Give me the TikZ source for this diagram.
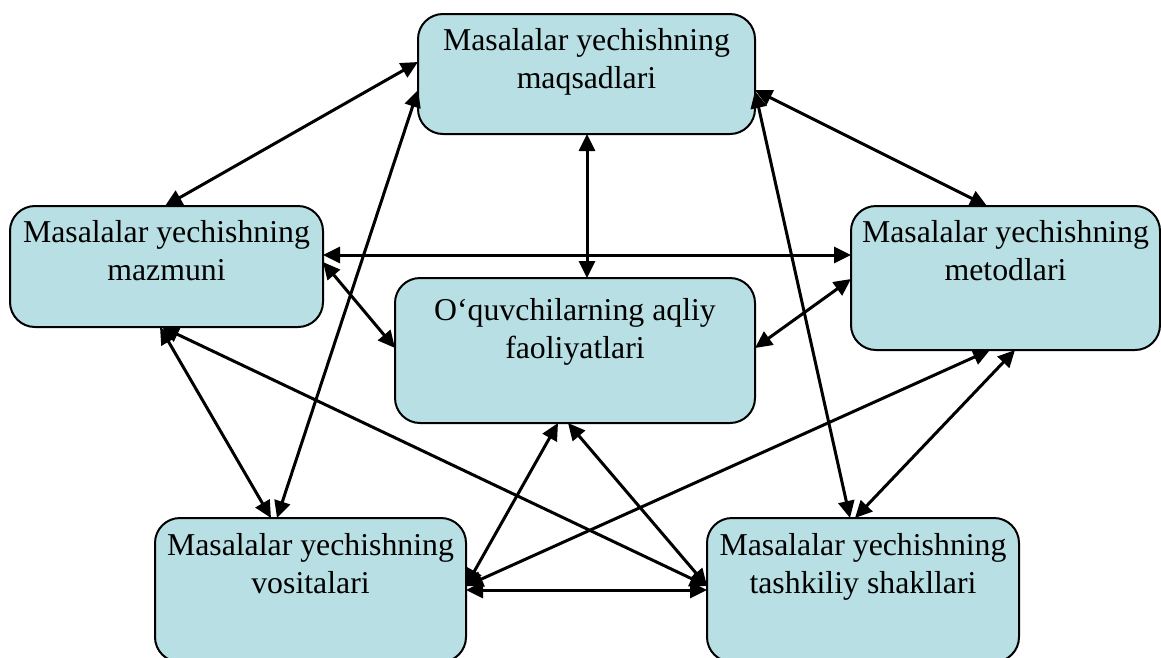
\documentclass[tikz,border=0pt]{standalone}
\usepackage{fontspec}
\setmainfont{Liberation Serif}
\usetikzlibrary{arrows.meta,calc}
\definecolor{boxfill}{RGB}{184,223,227}
\tikzset{
  box/.style={draw=black, line width=2pt, fill=boxfill, rounded corners=25pt, inner sep=0pt, outer sep=0pt},
  lbl/.style={anchor=north, inner sep=0pt, align=center, font=\fontsize{31.8pt}{38.2pt}\selectfont},
  conn/.style={line width=3pt, {Triangle[length=17pt,width=16pt]}-{Triangle[length=17pt,width=16pt]}}
}
\begin{document}
\begin{tikzpicture}[x=1pt,y=-1pt]
\useasboundingbox (0,0) rectangle (1161,657);
% boxes
\node[box, minimum width=337pt, minimum height=120pt] (T) at (586.5,74) {};
\node[box, minimum width=313pt, minimum height=121pt] (L) at (166.5,266.5) {};
\node[box, minimum width=309pt, minimum height=144pt] (R) at (1005.5,278) {};
\node[box, minimum width=360pt, minimum height=145pt] (C) at (575,350.5) {};
\node[box, minimum width=311pt, minimum height=144pt] (BL) at (310.5,590) {};
\node[box, minimum width=312pt, minimum height=144pt] (BR) at (863,590) {};
% labels
\node[lbl] (tT) at (586.5,28) {Masalalar yechishning\\maqsadlari};
\node[lbl] (tL) at (166.5,220) {Masalalar yechishning\\mazmuni};
\node[lbl] (tR) at (1005.5,220) {Masalalar yechishning\\metodlari};
\node[lbl] (tC) at (575,298) {O‘quvchilarning aqliy\\faoliyatlari};
\node[lbl] (tBL) at (310.5,533) {Masalalar yechishning\\vositalari};
\node[lbl] (tBR) at (863,533) {Masalalar yechishning\\tashkiliy shakllari};
% connectors
\draw[conn] ($(T.west)+(0,-12)$) -- ($(L.north)+(-1.5,0)$);
\draw[conn] ($(T.west)+(0,16)$) -- ($(BL.north)+(-33.5,0)$);
\draw[conn] ($(T.east)+(0,16)$) -- ($(R.north)+(-18.5,0)$);
\draw[conn] ($(T.south)+(0.5,0)$) -- ($(C.north)+(12,0)$);
\draw[conn] ($(T.east)+(0,17)$) -- ($(BR.north)+(-13,0)$);
\draw[conn] ($(L.east)+(0,-11.5)$) -- ($(R.west)+(0,-23)$);
\draw[conn] ($(L.east)+(0,-4.5)$) -- ($(C.west)+(0,-2.5)$);
\draw[conn] ($(L.south)+(-6.5,0)$) -- ($(BL.north)+(-39.5,0)$);
\draw[conn] ($(L.south)+(-4.5,0)$) -- ($(BR.west)+(0,-4)$);
\draw[conn] ($(C.east)+(0,-2.5)$) -- ($(R.west)+(0,1)$);
\draw[conn] ($(C.south)+(-17,0)$) -- ($(BL.east)+(0,-4)$);
\draw[conn] ($(C.south)+(-7,0)$) -- ($(BR.west)+(0,-4)$);
\draw[conn] ($(R.south)+(-15.5,0)$) -- ($(BL.east)+(0,-4)$);
\draw[conn] ($(R.south)+(9.5,0)$) -- ($(BR.north)+(-8,0)$);
\draw[conn] (BL.east) -- (BR.west);
\end{tikzpicture}
\end{document}
